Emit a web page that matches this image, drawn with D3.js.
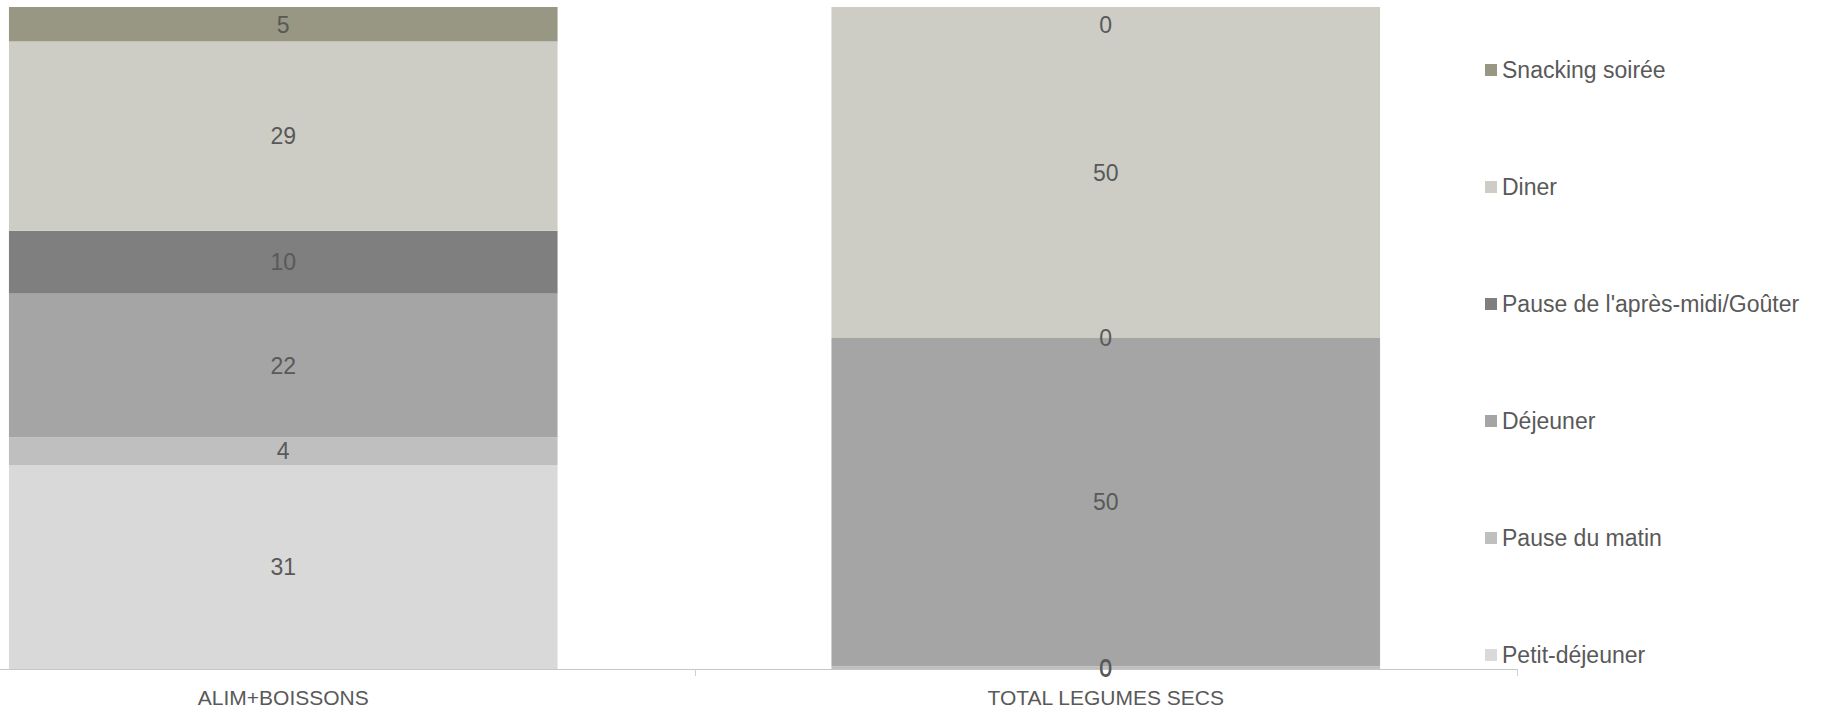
<!DOCTYPE html>
<html>
<head>
<meta charset="utf-8">
<script src="https://cdn.jsdelivr.net/npm/d3@7"></script>
<style>
  html, body { margin: 0; padding: 0; background: #ffffff; }
  svg { display: block; font-family: "Liberation Sans", Arial, sans-serif; }
</style>
</head>
<body>
<svg id="chart" width="1827" height="712"></svg>
<script>
// ---- Data ----
const categories = ["ALIM+BOISSONS", "TOTAL LEGUMES SECS"];
// series listed bottom to top of the stack
const seriesNames = ["Petit-déjeuner", "Pause du matin", "Déjeuner", "Pause de l'après-midi/Goûter", "Diner", "Snacking soirée"];
const petitDejeuner = [30.8, 0];
const pauseMatin = [4.2, 0.4];
const dejeuner = [21.7, 49.6];
const pauseApresMidi = [9.5, 0];
const diner = [28.6, 50];
const snackingSoiree = [5.2, 0];
const seriesColors = ["#d9d9d9", "#bfbfbf", "#a5a5a5", "#7f7f7f", "#cdcdc5", "#979783"];

const seriesValues = [petitDejeuner, pauseMatin, dejeuner, pauseApresMidi, diner, snackingSoiree];

// ---- Layout ----
const svg = d3.select("#chart");
const plot = { left: -128, right: 1517, top: 7, bottom: 669 };

const rows = categories.map((c, i) => {
  const r = { category: c };
  seriesNames.forEach((s, j) => { r[s] = seriesValues[j][i]; });
  return r;
});

const stack = d3.stack().keys(seriesNames);
const stacked = stack(rows);

const x = d3.scaleBand()
  .domain(categories)
  .range([plot.left, plot.right])
  .paddingInner(0.333)
  .paddingOuter(0.1665);

const y = d3.scaleLinear().domain([0, 100]).range([plot.bottom, plot.top]);

const color = d3.scaleOrdinal().domain(seriesNames).range(seriesColors);

// bars
const layers = svg.append("g").selectAll("g")
  .data(stacked)
  .join("g")
  .attr("fill", d => color(d.key));

layers.selectAll("rect")
  .data(d => d.map(p => ({ p, key: d.key })))
  .join("rect")
  .attr("x", d => x(d.p.data.category))
  .attr("width", x.bandwidth())
  .attr("y", d => y(d.p[1]))
  .attr("height", d => Math.max(0, y(d.p[0]) - y(d.p[1])));

// axis (category)
const xAxisG = svg.append("g")
  .attr("transform", `translate(0,${plot.bottom})`);
const xAxis = d3.axisBottom(x).tickSize(0).tickPadding(0);
xAxisG.call(xAxis);
xAxisG.select(".domain").remove();
xAxisG.selectAll(".tick text")
  .attr("y", 36)
  .attr("dy", 0)
  .attr("fill", "#595959")
  .attr("font-size", "21px")
  .attr("font-family", "'Liberation Sans', Arial, sans-serif");

// axis line + boundary ticks
xAxisG.append("line")
  .attr("x1", 0).attr("x2", plot.right)
  .attr("y1", 0.5).attr("y2", 0.5)
  .attr("stroke", "#c6c6c6").attr("stroke-width", 1.2);
const step = x.step();
const boundaries = categories.map((c, i) => x(c) + x.bandwidth() + (step - x.bandwidth()) / 2);
xAxisG.selectAll(".bound")
  .data(boundaries)
  .join("line")
  .attr("class", "bound")
  .attr("x1", d => Math.round(d) + 0.5).attr("x2", d => Math.round(d) + 0.5)
  .attr("y1", 0).attr("y2", 7)
  .attr("stroke", "#d0d0d0").attr("stroke-width", 1);

// data labels
const labelData = [];
stacked.forEach(layer => {
  layer.forEach(p => {
    const v = p[1] - p[0];
    let cy = (y(p[0]) + y(p[1])) / 2;
    if (cy < plot.top + 17.5) cy = plot.top + 17.5;
    labelData.push({ cx: x(p.data.category) + x.bandwidth() / 2, cy, text: d3.format(".0f")(Math.round(v)) });
  });
});
svg.append("g").selectAll("text")
  .data(labelData)
  .join("text")
  .attr("x", d => d.cx)
  .attr("y", d => d.cy)
  .attr("dy", "0.36em")
  .attr("text-anchor", "middle")
  .attr("fill", "#595959")
  .attr("font-size", "23px")
  .text(d => d.text);

// legend (top to bottom reverse of stack)
const legendItems = seriesNames.slice().reverse();
const legendY = d3.scalePoint().domain(legendItems).range([70, 655]);
const legend = svg.append("g");
const li = legend.selectAll("g")
  .data(legendItems)
  .join("g")
  .attr("transform", d => `translate(1485,${legendY(d)})`);
li.append("rect")
  .attr("x", 0).attr("y", -6)
  .attr("width", 12).attr("height", 12)
  .attr("fill", d => color(d));
li.append("text")
  .attr("x", 17)
  .attr("y", 0)
  .attr("dy", "0.36em")
  .attr("fill", "#595959")
  .attr("font-size", "23px")
  .text(d => d);
</script>
</body>
</html>
